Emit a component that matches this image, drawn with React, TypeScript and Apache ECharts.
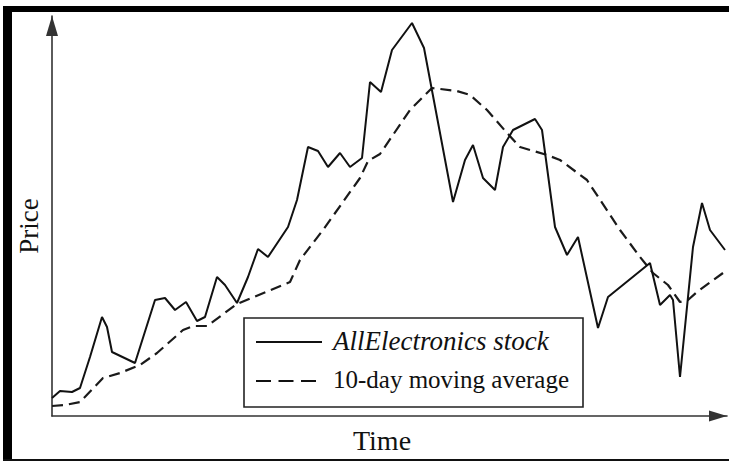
import React, { useEffect, useRef } from "react";
import * as echarts from "echarts";

// Time index (days) and price readings for the stock line
const stockDays = [0, 0.8, 2.0, 2.8, 3.8, 5.0, 5.5, 6.0, 8.3, 10.3, 11.3, 12.3, 13.4, 14.5, 15.3, 16.5, 17.3, 18.5, 19.6, 20.6, 21.6, 23.6, 24.5, 25.6, 26.6, 27.6, 28.8, 29.8, 31.0, 31.8, 32.9, 34.0, 36.0, 37.2, 40.1, 41.3, 42.1, 43.1, 44.3, 45.1, 46.1, 48.3, 49.0, 50.3, 51.5, 52.6, 54.6, 55.6, 59.8, 60.8, 61.8, 62.1, 62.8, 64.1, 65.0, 65.8, 67.3];
const stockPrice = [4.5, 6.25, 6.0, 7.0, 14.75, 24.75, 22.25, 16.0, 13.25, 29.0, 29.5, 26.5, 28.5, 23.75, 24.75, 34.75, 32.75, 28.25, 34.75, 41.75, 39.75, 47.25, 54.0, 67.25, 66.25, 62.25, 65.75, 62.25, 64.5, 83.5, 81.0, 91.5, 98.25, 92.0, 53.5, 64.0, 67.75, 59.5, 56.5, 67.25, 71.5, 74.25, 71.5, 47.25, 40.25, 44.75, 22.0, 29.75, 38.25, 27.75, 30.25, 29.0, 9.75, 42.25, 53.25, 46.5, 41.5];

// Time index and value readings for the 10-day moving average
const maDays = [0, 1.3, 2.8, 5.1, 6.8, 8.8, 10.5, 13.1, 14.1, 15.5, 18.5, 23.8, 24.8, 27.1, 30.8, 31.6, 32.8, 35.8, 38.0, 40.5, 41.8, 43.5, 45.5, 46.8, 49.5, 50.8, 53.5, 56.8, 58.8, 60.1, 61.6, 62.8, 63.6, 64.5, 67.1];
const maPrice = [2.5, 2.75, 3.5, 9.5, 10.75, 12.75, 15.75, 21.5, 22.5, 22.5, 28.0, 33.5, 39.0, 46.5, 59.5, 63.75, 65.5, 76.5, 82.0, 81.25, 80.25, 76.5, 70.75, 67.25, 65.25, 64.0, 59.0, 46.5, 39.75, 35.75, 32.75, 28.5, 29.0, 31.0, 35.75];

const legendNames = ["AllElectronics stock", "10-day moving average"];
const axisTitles = { x: "Time", y: "Price" };

const FONT = "'Liberation Serif', 'Times New Roman', serif";

export default function App() {
  const ref = useRef<HTMLDivElement>(null);

  useEffect(() => {
    document.body.style.margin = "0";
    const chart = echarts.init(ref.current!, null, { renderer: "svg" });
    const stockData = stockDays.map((d, i) => [d, stockPrice[i]]);
    const maData = maDays.map((d, i) => [d, maPrice[i]]);

    const axisLine = (size: number[]) => ({
      show: true,
      symbol: ["none", "triangle"],
      symbolSize: size,
      symbolOffset: [0, -size[1] / 2],
      lineStyle: { color: "#333", width: 1.6 },
    });

    chart.setOption({
      animation: false,
      backgroundColor: "#fff",
      grid: { left: 52, right: 2, top: 16, bottom: 46, containLabel: false, outerBoundsMode: "none" },
      xAxis: {
        type: "value",
        min: 0,
        max: 67.5,
        axisLine: axisLine([11, 18]),
        axisTick: { show: false },
        axisLabel: { show: false },
        splitLine: { show: false },
      },
      yAxis: {
        type: "value",
        min: 0,
        max: 100,
        axisLine: axisLine([12, 20]),
        axisTick: { show: false },
        axisLabel: { show: false },
        splitLine: { show: false },
      },
      series: [
        {
          name: legendNames[0],
          type: "line",
          data: stockData,
          symbol: "none",
          lineStyle: { color: "#111", width: 2 },
          z: 3,
        },
        {
          name: legendNames[1],
          type: "line",
          data: maData,
          symbol: "none",
          lineStyle: { color: "#1a1a1a", width: 2.2, type: [11, 6] },
          z: 2,
        },
      ],
      graphic: [
        // frame
        { type: "rect", shape: { x: 3, y: 6, width: 9, height: 455 }, style: { fill: "#000" }, z: 100 },
        { type: "rect", shape: { x: 3, y: 6, width: 726, height: 6 }, style: { fill: "#000" }, z: 100 },
        { type: "rect", shape: { x: 3, y: 459, width: 726, height: 2 }, style: { fill: "#111" }, z: 100 },
        // axis titles
        {
          type: "text",
          x: 382,
          y: 440,
          style: { text: axisTitles.x, font: `28px ${FONT}`, fill: "#111", align: "center", verticalAlign: "middle" },
          z: 100,
        },
        {
          type: "text",
          x: 29,
          y: 226,
          rotation: Math.PI / 2,
          style: { text: axisTitles.y, font: `27px ${FONT}`, fill: "#111", align: "center", verticalAlign: "middle" },
          z: 100,
        },
        // legend
        {
          type: "rect",
          shape: { x: 244, y: 318, width: 339, height: 89 },
          style: { fill: "#fff", stroke: "#222", lineWidth: 1.6 },
          z: 100,
        },
        {
          type: "line",
          shape: { x1: 256, y1: 342, x2: 322, y2: 342 },
          style: { stroke: "#111", lineWidth: 2 },
          z: 101,
        },
        {
          type: "line",
          shape: { x1: 256, y1: 381, x2: 316, y2: 381 },
          style: { stroke: "#111", lineWidth: 2.2, lineDash: [15, 7.5] },
          z: 101,
        },
        {
          type: "text",
          x: 333,
          y: 341,
          style: { text: legendNames[0], font: `italic 27px ${FONT}`, fill: "#111", align: "left", verticalAlign: "middle" },
          z: 101,
        },
        {
          type: "text",
          x: 333,
          y: 379,
          style: { text: legendNames[1], font: `25px ${FONT}`, fill: "#111", align: "left", verticalAlign: "middle" },
          z: 101,
        },
      ],
    });
    return () => chart.dispose();
  }, []);

  return (
    <div
      ref={ref}
      style={{ position: "fixed", left: 0, top: 0, width: 729, height: 462 }}
    />
  );
}
